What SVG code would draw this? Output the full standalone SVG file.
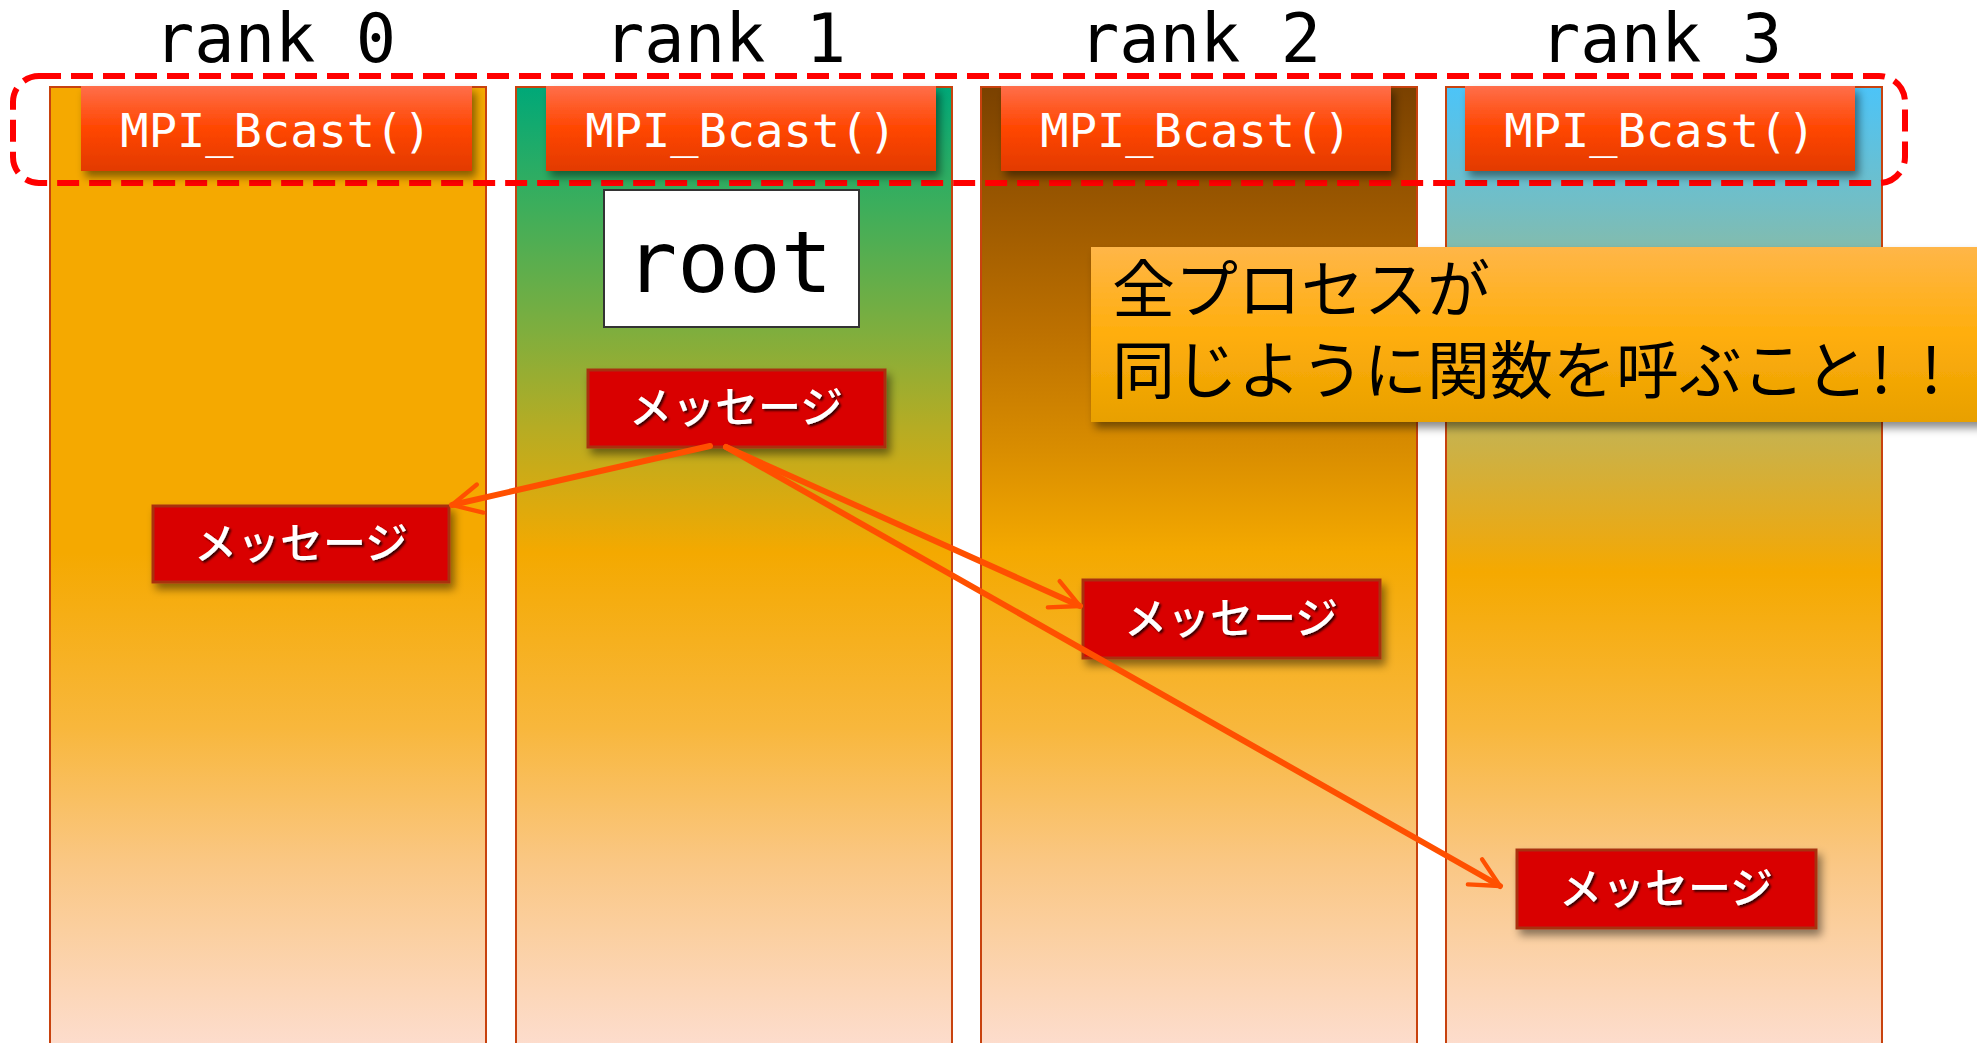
<svg xmlns="http://www.w3.org/2000/svg" width="1977" height="1043" viewBox="0 0 1977 1043">
<defs>
<style>
.col{stroke:#C8420E;stroke-width:2}
.rank{font-family:"DejaVu Sans Mono","Liberation Mono",monospace;font-size:67px;fill:#000;text-anchor:middle}
.bcast{fill:url(#gBcast);filter:url(#sh)}
.bcastT{font-family:"DejaVu Sans Mono","Liberation Mono",monospace;font-size:47px;fill:#fff;text-anchor:middle}
.msg{fill:#D90000;stroke:#A8300E;stroke-width:3;filter:url(#sh)}
.msgT{font-family:"Noto Sans CJK JP","Noto Sans",sans-serif;font-size:43px;font-weight:500;fill:#fff;text-anchor:middle;filter:url(#tsh)}
.arr{fill:none;stroke:#FF5000;stroke-width:6;stroke-linecap:round;marker-end:url(#ah)}
.call{font-family:"Noto Sans CJK JP","Noto Sans",sans-serif;font-size:63px;fill:#000}
</style>
<filter id="sh" x="-10%" y="-20%" width="130%" height="150%">
<feDropShadow dx="4" dy="6" stdDeviation="4" flood-color="#000" flood-opacity="0.45"/>
</filter>
<filter id="tsh" x="-10%" y="-20%" width="130%" height="150%">
<feDropShadow dx="2" dy="2" stdDeviation="1" flood-color="#000" flood-opacity="0.75"/>
</filter>
<marker id="ah" viewBox="0 0 10 10" refX="9" refY="5" markerWidth="6" markerHeight="6" orient="auto" markerUnits="strokeWidth">
<path d="M1,1 L9,5 L1,9" fill="none" stroke="#FF5000" stroke-width="1.2" stroke-linecap="round" stroke-linejoin="round"/>
</marker>
<linearGradient id="g0" x1="0" y1="0" x2="0" y2="1">
<stop offset="0" stop-color="#F5A900"/>
<stop offset="0.48" stop-color="#F5A900"/>
<stop offset="0.66" stop-color="#F8B73C"/>
<stop offset="0.8" stop-color="#FAC784"/>
<stop offset="1" stop-color="#FDDED2"/>
</linearGradient>
<linearGradient id="g1" x1="0" y1="0" x2="0" y2="1">
<stop offset="0" stop-color="#00A878"/>
<stop offset="0.12" stop-color="#3BAE5C"/>
<stop offset="0.25" stop-color="#7EAE3E"/>
<stop offset="0.35" stop-color="#B5AC24"/>
<stop offset="0.48" stop-color="#F4A900"/>
<stop offset="0.66" stop-color="#F8B73C"/>
<stop offset="0.8" stop-color="#FAC784"/>
<stop offset="1" stop-color="#FDDED2"/>
</linearGradient>
<linearGradient id="g2" x1="0" y1="0" x2="0" y2="1">
<stop offset="0" stop-color="#7A4100"/>
<stop offset="0.12" stop-color="#9A5700"/>
<stop offset="0.25" stop-color="#BC7000"/>
<stop offset="0.37" stop-color="#D88C00"/>
<stop offset="0.48" stop-color="#F4A900"/>
<stop offset="0.66" stop-color="#F8B73C"/>
<stop offset="0.8" stop-color="#FAC784"/>
<stop offset="1" stop-color="#FDDED2"/>
</linearGradient>
<linearGradient id="g3" x1="0" y1="0" x2="0" y2="1">
<stop offset="0" stop-color="#4CC4F8"/>
<stop offset="0.12" stop-color="#72BEC5"/>
<stop offset="0.36" stop-color="#C8B24C"/>
<stop offset="0.46" stop-color="#E8AA18"/>
<stop offset="0.5" stop-color="#F5A900"/>
<stop offset="0.66" stop-color="#F8B73C"/>
<stop offset="0.8" stop-color="#FAC784"/>
<stop offset="1" stop-color="#FDDED2"/>
</linearGradient>
<linearGradient id="gBcast" x1="0" y1="0" x2="0" y2="1">
<stop offset="0" stop-color="#FF6E4A"/>
<stop offset="0.5" stop-color="#FF4600"/>
<stop offset="1" stop-color="#E23A00"/>
</linearGradient>
<linearGradient id="gCall" x1="0" y1="0" x2="0" y2="1">
<stop offset="0" stop-color="#FFB648"/>
<stop offset="0.5" stop-color="#FFAE0C"/>
<stop offset="1" stop-color="#E8A000"/>
</linearGradient>
</defs>
<rect width="1977" height="1043" fill="#fff"/>

<g id="rank0">
<rect class="col" x="50" y="87" width="436" height="970" fill="url(#g0)"/>
<text class="rank" x="275" y="62">rank 0</text>
</g>
<g id="rank1">
<rect class="col" x="516" y="87" width="436" height="970" fill="url(#g1)"/>
<text class="rank" x="725" y="62">rank 1</text>
</g>
<g id="rank2">
<rect class="col" x="981" y="87" width="436" height="970" fill="url(#g2)"/>
<text class="rank" x="1200" y="62">rank 2</text>
</g>
<g id="rank3">
<rect class="col" x="1446" y="87" width="436" height="970" fill="url(#g3)"/>
<text class="rank" x="1661" y="62">rank 3</text>
</g>

<g id="bcast-group">
<rect x="13" y="76" width="1892" height="107" rx="26" fill="none" stroke="#FF0000" stroke-width="6" stroke-dasharray="22 10"/>
</g>

<g id="bcast0">
<rect class="bcast" x="81" y="86" width="391" height="85"/>
<text class="bcastT" x="276" y="147">MPI_Bcast()</text>
</g>
<g id="bcast1">
<rect class="bcast" x="546" y="86" width="390" height="85"/>
<text class="bcastT" x="741" y="147">MPI_Bcast()</text>
</g>
<g id="bcast2">
<rect class="bcast" x="1001" y="86" width="390" height="85"/>
<text class="bcastT" x="1196" y="147">MPI_Bcast()</text>
</g>
<g id="bcast3">
<rect class="bcast" x="1465" y="86" width="390" height="85"/>
<text class="bcastT" x="1660" y="147">MPI_Bcast()</text>
</g>

<g id="root">
<rect x="604" y="190" width="255" height="137" fill="#fff" stroke="#333" stroke-width="2"/>
<text x="729" y="292" font-family="DejaVu Sans Mono, Liberation Mono, monospace" font-size="86" fill="#000" text-anchor="middle">root</text>
</g>

<g id="callout">
<rect x="1091" y="247" width="900" height="175" fill="url(#gCall)" filter="url(#sh)"/>
<text class="call"><tspan x="1112" y="312">全プロセスが</tspan><tspan x="1112" y="393">同じように関数を呼ぶこと</tspan><tspan x="1871" y="393">!</tspan><tspan x="1921" y="393">!</tspan></text>
</g>

<g id="msg1">
<rect class="msg" x="588" y="370" width="297" height="77"/>
<text class="msgT" x="736" y="423">メッセージ</text>
</g>
<g id="msg0">
<rect class="msg" x="153" y="506" width="296" height="76"/>
<text class="msgT" x="301" y="559">メッセージ</text>
</g>
<g id="msg2">
<rect class="msg" x="1083" y="580" width="297" height="78"/>
<text class="msgT" x="1231" y="634">メッセージ</text>
</g>
<g id="msg3">
<rect class="msg" x="1517" y="850" width="299" height="78"/>
<text class="msgT" x="1666" y="904">メッセージ</text>
</g>

<g id="connectors">
<path class="arr" d="M710,446 L452,505"/>
<path class="arr" d="M726,447 L1080,606"/>
<path class="arr" d="M726,447 L1500,886"/>
</g>
</svg>
